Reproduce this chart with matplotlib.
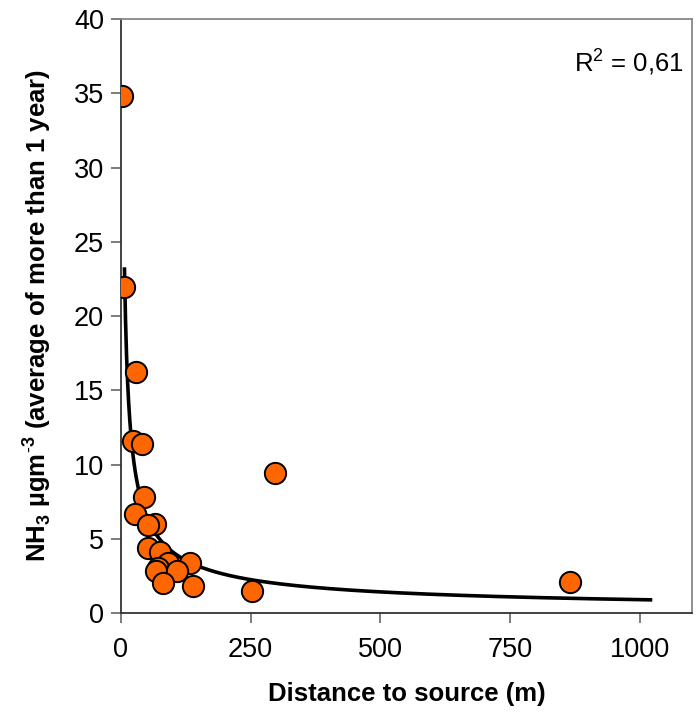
import numpy as np
import matplotlib.pyplot as plt

plt.rcParams['font.family'] = ['Liberation Sans', 'DejaVu Sans']
plt.rcParams['mathtext.fontset'] = 'custom'
plt.rcParams['mathtext.rm'] = 'Liberation Sans'
plt.rcParams['mathtext.bf'] = 'Liberation Sans:bold'

# distance to source (m) and NH3 concentration (ug/m3)
distance = [2.5, 6.3, 29, 24, 41, 45, 27, 66, 52, 52, 75, 91, 133, 72, 68, 108, 81, 139, 252, 298, 866]
nh3 = [34.8, 21.95, 16.2, 11.6, 11.4, 7.8, 6.7, 6.0, 5.9, 4.4, 4.1, 3.4, 3.4, 3.0, 2.8, 2.8, 2.0, 1.8, 1.5, 9.4, 2.1]

xticks = [0, 250, 500, 750, 1000]
yticks = [0, 5, 10, 15, 20, 25, 30, 35, 40]

# power trendline y = a * x^b, coefficients
trend_a = 86.0
trend_b = -0.66
trend_range = (7.3, 1020)

xt = np.linspace(trend_range[0], trend_range[1], 500)
yt = trend_a * xt ** trend_b

fig = plt.figure(figsize=(7, 7.12), dpi=100)
ax = fig.add_axes([0.1724, 0.139, 0.8162, 0.8343])

ax.plot(xt, yt, color='black', lw=2.6, zorder=2)
ax.scatter(distance, nh3, s=235, color='#FF6600', edgecolors='black', linewidths=1.4, zorder=3)

ax.set_xlim(0, 1100)
ax.set_ylim(0, 40)
ax.set_xticks(xticks)
ax.set_yticks(yticks)
ax.tick_params(labelsize=19.5, length=7, width=1.2, color='#666666', direction='out')
ax.tick_params(axis='x', pad=10)
ax.tick_params(axis='y', pad=5)

for s in ['left', 'bottom']:
    ax.spines[s].set_color('#333333')
    ax.spines[s].set_linewidth(1.3)
for s in ['top', 'right']:
    ax.spines[s].set_color('#888888')
    ax.spines[s].set_linewidth(1.3)

ax.set_xlabel('Distance to source (m)', fontsize=18.5, fontweight='bold', labelpad=14)
ax.set_ylabel(r'NH$_\mathbf{3}$ µgm$^\mathbf{\text{-}3}$ (average of more than 1 year)',
              fontsize=18.5, fontweight='bold', labelpad=15)

ax.text(0.985, 0.955, r'R$^2$ = 0,61', transform=ax.transAxes, ha='right', va='top', fontsize=18.5)

fig.savefig('out.png', dpi=100)
